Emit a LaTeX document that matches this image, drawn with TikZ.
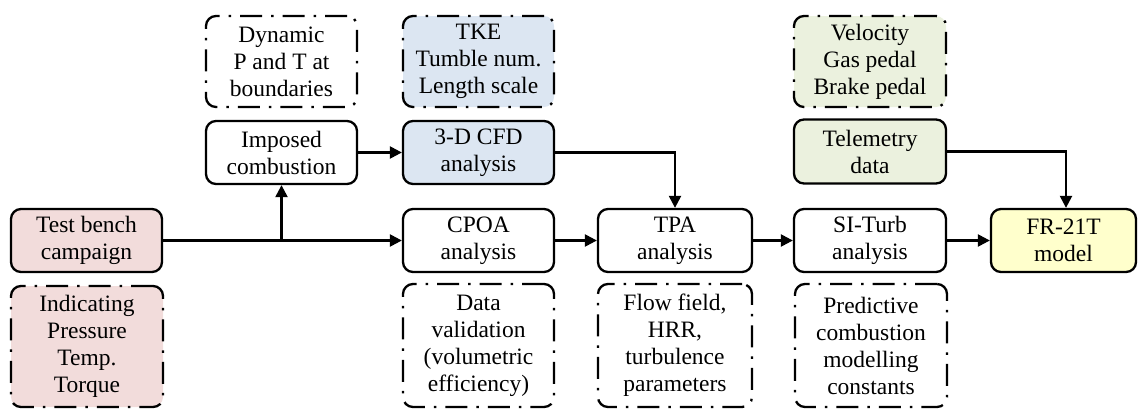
\documentclass[tikz,border=0pt]{standalone}
\usepackage{fontspec}
\setmainfont{Liberation Serif}
\usetikzlibrary{arrows.meta}
\definecolor{cpink}{HTML}{F2DCDB}
\definecolor{cblue}{HTML}{DCE6F2}
\definecolor{cgreen}{HTML}{EBF1DE}
\definecolor{cyell}{HTML}{FFFFCC}
\tikzset{
  box/.style={draw=black, line width=2.3pt, rounded corners=10pt, inner sep=0pt,
    align=center, font=\fontsize{23.5}{27}\selectfont, fill=white},
  solidbox/.style={box, minimum height=63pt},
  dashbox/.style={box, dash pattern=on 22pt off 9pt on 2.5pt off 9pt},
  arr/.style={line width=2.3pt, -{Triangle[length=12pt,width=12pt]}},
}
\begin{document}
\begin{tikzpicture}[x=1pt,y=-1pt]
\useasboundingbox (0,0) rectangle (1138,410);
% column 1
\node[solidbox, fill=cpink, minimum width=151pt] (tb) at (86.5,240.5) {Test bench\\campaign};
\node[dashbox, fill=cpink, minimum width=152pt, minimum height=121pt] (ind) at (87,346.5) {Indicating\\Pressure\\Temp.\\Torque};
% column 2
\node[dashbox, minimum width=151pt, minimum height=91pt] (dyn) at (281.5,61.5) {Dynamic\\P and T at\\boundaries};
\node[solidbox, minimum width=151pt] (imp) at (281.5,152.5) {Imposed\\combustion};
% column 3
\node[dashbox, fill=cblue, minimum width=151pt, minimum height=91pt] (tke) at (478.5,61.5) {TKE\\Tumble num.\\Length scale};
\node[solidbox, fill=cblue, minimum width=151pt] (cfd) at (478.5,152.5) {3-D CFD\\analysis};
\node[solidbox, minimum width=151pt] (cpoa) at (478.5,240.5) {CPOA\\analysis};
\node[dashbox, minimum width=151pt, minimum height=123pt] (dv) at (478.5,345.5) {Data\\validation\\(volumetric\\efficiency)};
% column 4
\node[solidbox, minimum width=154pt] (tpa) at (675,240.5) {TPA\\analysis};
\node[dashbox, minimum width=154pt, minimum height=123pt] (ff) at (675,345.5) {Flow field,\\HRR,\\turbulence\\parameters};
% column 5
\node[dashbox, fill=cgreen, minimum width=152pt, minimum height=91pt] (vel) at (870,61.5) {Velocity\\Gas pedal\\Brake pedal};
\node[solidbox, fill=cgreen, minimum width=152pt, minimum height=64pt] (tel) at (870,151.5) {Telemetry\\data};
\node[solidbox, minimum width=152pt] (si) at (870,240.5) {SI-Turb\\analysis};
\node[dashbox, minimum width=152pt, minimum height=123pt] (pred) at (871,345.5) {Predictive\\combustion\\modelling\\constants};
% column 6
\node[solidbox, fill=cyell, minimum width=145pt] (fr) at (1063.5,240.5) {FR-21T\\model};
% connectors
\draw[arr] (tb.east) -- (cpoa.west);
\draw[arr] (imp.south |- tb.east) -- (imp.south);
\draw[arr] (imp.east) -- (cfd.west);
\draw[arr] (cfd.east) -| (tpa.north);
\draw[arr] (cpoa.east) -- (tpa.west);
\draw[arr] (tpa.east) -- (si.west);
\draw[arr] (si.east) -- (fr.west);
\draw[arr] (tel.east) -| ([xshift=2.5pt]fr.north);
\end{tikzpicture}
\end{document}
